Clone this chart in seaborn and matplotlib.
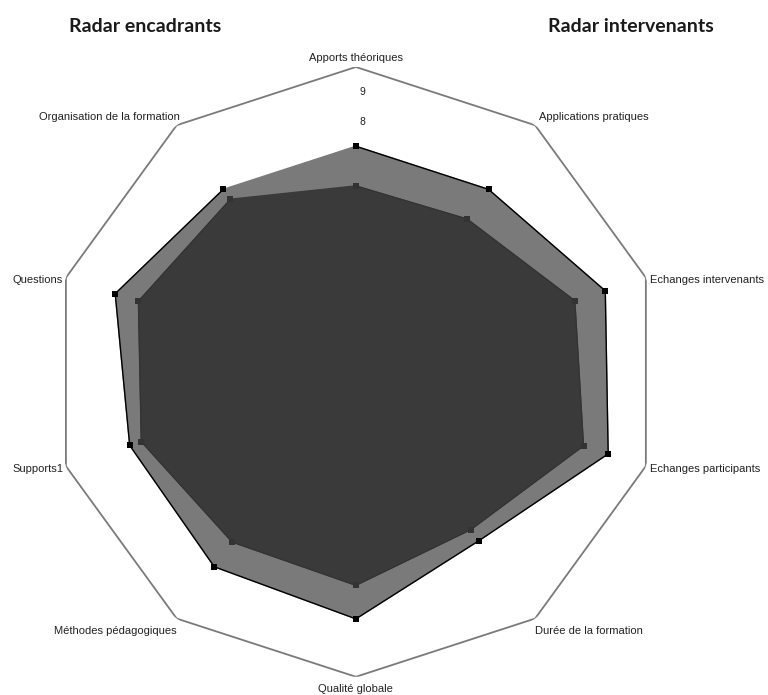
import numpy as np
import pandas as pd
import matplotlib
matplotlib.use("Agg")
import matplotlib.pyplot as plt
import seaborn as sns

# -------------------- Data --------------------

categories = [
    "Apports théoriques",
    "Applications pratiques",
    "Echanges intervenants",
    "Echanges participants",
    "Durée de la formation",
    "Qualité globale",
    "Méthodes pédagogiques",
    "Supports1",
    "Questions",
    "Organisation de la formation",
]
encadrants = [7.4, 7.4, 8.6, 8.7, 6.85, 8.1, 7.9, 7.8, 8.3, 7.4]
intervenants = [6.1, 6.2, 7.55, 7.85, 6.4, 7.0, 6.9, 7.4, 7.5, 7.0]
ring_labels = [9, 8]
r_max = 10

# -------------------- Plot --------------------

sns.set_theme(style="white")
plt.rcParams["font.family"] = ["Liberation Sans", "DejaVu Sans"]

n = len(categories)
theta = np.linspace(0, 2 * np.pi, n, endpoint=False)
theta_closed = np.append(theta, theta[0])


def closed(values):
    return np.append(values, values[0])


fig = plt.figure(figsize=(7.68, 6.95), dpi=100)
ax = fig.add_axes([0.0664, 0.0259, 0.794, 0.878], projection="polar")
ax.set_theta_offset(np.pi / 2)
ax.set_theta_direction(-1)
ax.set_ylim(0, r_max)
ax.grid(False)
ax.spines["polar"].set_visible(False)
ax.set_xticks([])
ax.set_yticks([])

# outer decagon (max ring)
ax.plot(theta_closed, closed(np.full(n, r_max)), color="#7a7a7a", lw=1.3)

# encadrants series (lighter, with markers)
ax.fill(theta_closed, closed(encadrants), color="#7a7a7a", zorder=2)
df_enc = pd.DataFrame({"theta": theta_closed, "value": closed(encadrants)})
sns.lineplot(data=df_enc, x="theta", y="value", sort=False, ax=ax,
             color="black", lw=1.0, marker="s", markersize=4.5,
             markeredgewidth=0, zorder=4)

# intervenants series (darker)
ax.fill(theta_closed, closed(intervenants), color="#3a3a3a", zorder=3)
df_int = pd.DataFrame({"theta": theta_closed, "value": closed(intervenants)})
sns.lineplot(data=df_int, x="theta", y="value", sort=False, ax=ax,
             color="#333333", lw=0.8, marker="s", markersize=4,
             markeredgewidth=0, zorder=4)
ax.set_xlabel("")
ax.set_ylabel("")

# category labels around the outer ring (Excel-like placement)
for t, label in zip(theta, categories):
    deg = round(np.degrees(t))
    if deg == 0:
        ha, va, off = "center", "bottom", (0, 3)
    elif deg == 180:
        ha, va, off = "center", "top", (0, -5)
    elif deg in (36, 324):
        ha, va = ("left" if deg == 36 else "right"), "bottom"
        off = (3, 2) if deg == 36 else (2, 2)
    elif deg in (144, 216):
        ha, va = ("left" if deg == 144 else "right"), "top"
        off = (0, -5)
    else:
        ha = "left" if deg < 180 else "right"
        va = "center"
        off = (3, -2) if deg < 180 else (-2, -2)
    ax.annotate(label, xy=(t, r_max), xytext=off, textcoords="offset points",
                ha=ha, va=va, fontsize=8, color="#222222")

# radial tick labels on top axis
for r in ring_labels:
    ax.annotate(str(r), xy=(0, r), xytext=(5, 4), textcoords="offset points",
                ha="center", va="center", fontsize=7.5, color="#222222")

fig.text(0.189, 0.962, "Radar encadrants", ha="center", va="center",
         fontsize=14, fontweight="bold", family=["Lato", "DejaVu Sans"], color="#1a1a1a")
fig.text(0.822, 0.962, "Radar intervenants", ha="center", va="center",
         fontsize=14, fontweight="bold", family=["Lato", "DejaVu Sans"], color="#1a1a1a")

fig.savefig("out.png", dpi=100)
plt.close(fig)
